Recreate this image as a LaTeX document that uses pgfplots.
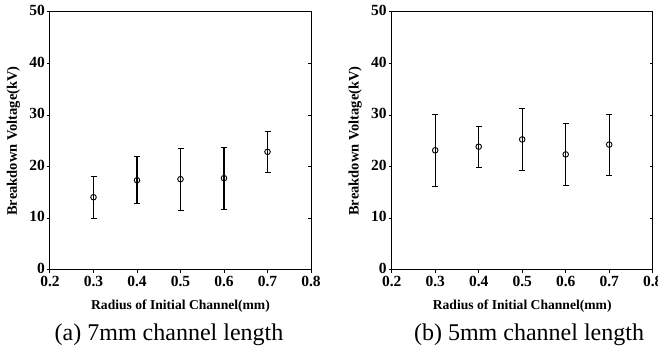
\documentclass[border=0pt]{standalone}
\usepackage{pgfplots}
\usepackage{pgfplotstable}
\usepackage{fontspec}
\setmainfont{Liberation Serif}
\pgfplotsset{compat=1.18}

\pgfplotstableread{
x y ep em
0.3 14.1 4.0 4.1
0.4 17.4 4.6 4.5
0.5 17.6 6.0 6.1
0.6 17.8 6.0 6.0
0.7 22.9 3.9 4.0
}\dataA
\pgfplotstableread{
x y ep em
0.3 23.2 6.9 7.1
0.4 23.9 3.9 4.1
0.5 25.3 6.0 6.1
0.6 22.4 6.0 6.0
0.7 24.3 5.9 6.0
}\dataB

\pgfplotsset{
  mybase/.style={
    scale only axis, width=261pt, height=258pt,
    xmin=0.2, xmax=0.8, ymin=0, ymax=50,
    xtick={0.2,0.3,...,0.8}, ytick={0,10,...,50},
    axis line style={line width=1pt},
    tick style={line width=1pt, black},
    major tick length=3pt,
    tick align=outside, xtick pos=bottom, ytick pos=left,
    /pgf/number format/assume math mode=true,
    xticklabel={\pgfmathprintnumber[fixed,precision=1,fixed zerofill]{\tick}},
    yticklabel={\pgfmathprintnumber{\tick}},
    tick label style={font=\fontsize{15.5}{15.5}\selectfont\bfseries},
    xticklabel style={yshift=0pt},
    yticklabel style={xshift=1.5pt, yshift=1.5pt},
    every axis x label/.style={at={([yshift=-40pt]axis description cs:0.5,0)}, anchor=base, font=\fontsize{13.6}{14}\selectfont\bfseries},
    every axis y label/.style={at={([xshift=-33pt]axis description cs:0,0.5)}, anchor=base, rotate=90, font=\fontsize{14.5}{15}\selectfont\bfseries},
    xlabel={Radius of Initial Channel(mm)},
    ylabel={Breakdown Voltage(kV)},
  },
  myright/.style={
    scale only axis, width=261pt, height=258pt,
    xmin=0.2, xmax=0.8, ymin=0, ymax=50,
    axis x line=none, axis y line*=right,
    axis line style={line width=1pt},
    ytick={10,20,...,40}, yticklabels={},
    tick style={line width=1pt, black}, major tick length=3pt, tick align=inside,
  },
  myplot/.style={
    black, only marks, mark=o, mark size=2.8pt,
    mark options={fill=white, line width=0.9pt},
    error bars/.cd, y dir=both, y explicit,
    error bar style={line width=1.1pt},
    error mark options={rotate=90, mark size=3pt, line width=1.1pt},
  },
}

\begin{document}
\begin{tikzpicture}
\path[use as bounding box] (0,0) rectangle (658pt,352pt);

\begin{axis}[mybase, at={(50pt,82pt)}, anchor=south west]
\addplot+[myplot] table[x=x, y=y, y error plus=ep, y error minus=em] {\dataA};
\end{axis}
\begin{axis}[myright, at={(50pt,82pt)}, anchor=south west]
\end{axis}

\begin{axis}[mybase, at={(391.7pt,82pt)}, anchor=south west]
\addplot+[myplot] table[x=x, y=y, y error plus=ep, y error minus=em] {\dataB};
\end{axis}
\begin{axis}[myright, at={(391.7pt,82pt)}, anchor=south west]
\end{axis}

\node[anchor=base, font=\fontsize{24}{26}\selectfont] at (169pt,11pt) {(a) 7mm channel length};
\node[anchor=base, font=\fontsize{24}{26}\selectfont] at (529pt,11pt) {(b) 5mm channel length};
\end{tikzpicture}
\end{document}
